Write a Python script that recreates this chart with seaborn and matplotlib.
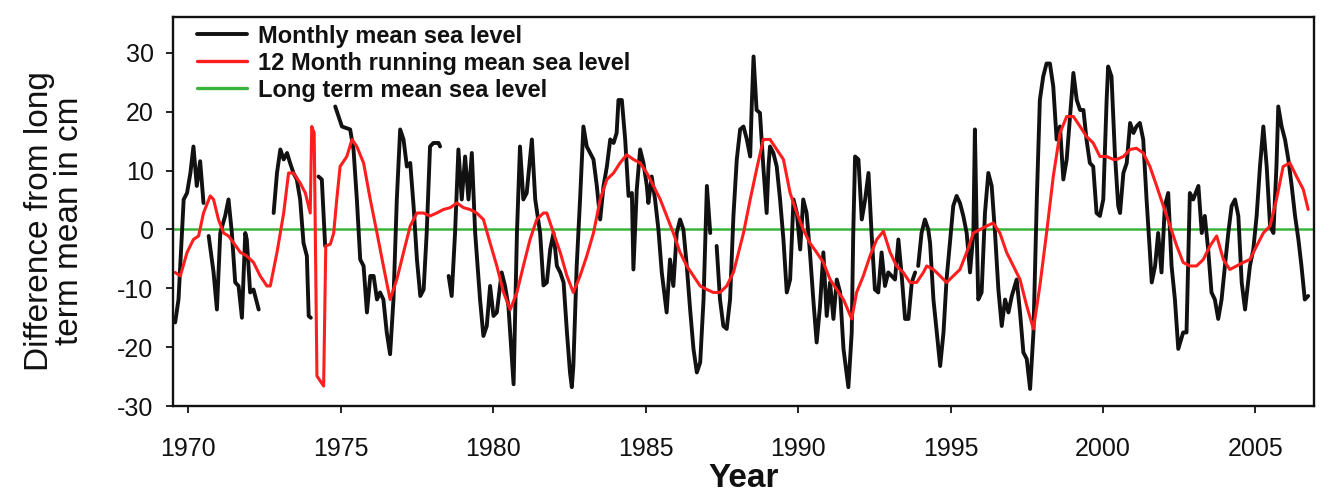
import numpy as np
import pandas as pd
import matplotlib
matplotlib.use("Agg")
import matplotlib.pyplot as plt
import seaborn as sns
from matplotlib.lines import Line2D

nan = np.nan

# monthly mean sea level (cm from long term mean), NaN marks gaps in the record
black_year = [
    1969.57, 1969.68, 1969.85, 1969.96, 1970.07, 1970.17, 1970.28, 1970.39, 1970.50, nan,
    1970.67, 1970.83, 1970.94, 1971.05, 1971.21, 1971.32, 1971.43, 1971.54, 1971.65, 1971.76,
    1971.87, 1971.92, 1972.03, 1972.14, 1972.31, nan,
    1972.80, 1972.91, 1973.02, 1973.13, 1973.24, 1973.34, 1973.45, 1973.56, 1973.67, 1973.78,
    1973.89, 1973.95, 1974.02, nan,
    1974.27, 1974.38, 1974.49, nan,
    1974.82, 1975.04, 1975.31, 1975.42, 1975.53, 1975.64, 1975.75, 1975.86, 1975.97, 1976.08,
    1976.19, 1976.29, 1976.40, 1976.51, 1976.62, 1976.73, 1976.84, 1976.95, 1977.06, 1977.17,
    1977.28, 1977.39, 1977.50, 1977.61, 1977.72, 1977.82, 1977.93, 1978.04, 1978.21, 1978.26, nan,
    1978.54, 1978.64, 1978.75, 1978.86, 1978.97, 1979.08, 1979.19, 1979.30, 1979.41, 1979.57,
    1979.68, 1979.79, 1979.90, 1980.01, 1980.12, 1980.28, 1980.39, 1980.50, 1980.67, 1980.78,
    1980.88, 1980.99, 1981.10, 1981.27, 1981.38, 1981.54, 1981.65, 1981.76, 1981.87, 1981.98,
    1982.09, 1982.20, 1982.31, 1982.42, 1982.52, 1982.58, 1982.63, 1982.74, 1982.85, 1982.96,
    1983.07, 1983.18, 1983.29, 1983.40, 1983.51, 1983.62, 1983.73, 1983.84, 1983.95, 1984.05,
    1984.11, 1984.22, 1984.33, 1984.44, 1984.55, 1984.60, 1984.71, 1984.82, 1984.93, 1985.04,
    1985.09, 1985.20, 1985.31, 1985.42, 1985.53, 1985.69, 1985.80, 1985.91, 1986.02, 1986.13,
    1986.24, 1986.35, 1986.46, 1986.57, 1986.68, 1986.79, 1986.90, 1987.01, 1987.12, nan,
    1987.33, 1987.44, 1987.55, 1987.66, 1987.77, 1987.88, 1987.99, 1988.10, 1988.21, 1988.32,
    1988.43, 1988.48, 1988.54, 1988.64, 1988.75, 1988.86, 1988.97, 1989.03, 1989.08, 1989.19,
    1989.30, 1989.41, 1989.52, 1989.63, 1989.74, 1989.85, 1989.96, 1990.07, 1990.17, 1990.28,
    1990.39, 1990.50, 1990.61, 1990.72, 1990.83, 1990.94, 1991.05, 1991.16, 1991.27, 1991.38,
    1991.49, 1991.65, 1991.76, 1991.81, 1991.87, 1991.98, 1992.09, 1992.20, 1992.31, 1992.41,
    1992.52, 1992.63, 1992.74, 1992.85, 1992.96, 1993.07, 1993.18, 1993.29, 1993.40, 1993.51,
    1993.62, 1993.73, 1993.84, nan,
    1993.94, 1994.05, 1994.16, 1994.27, 1994.33, 1994.44, 1994.55, 1994.66, 1994.77, 1994.87,
    1994.98, 1995.09, 1995.20, 1995.31, 1995.42, 1995.53, 1995.64, 1995.75, 1995.80, 1995.86,
    1995.91, 1996.02, 1996.13, 1996.24, 1996.35, 1996.46, 1996.57, 1996.68, 1996.79, 1996.90,
    1997.01, 1997.17, 1997.28, 1997.39, 1997.50, 1997.61, 1997.72, 1997.83, 1997.93, 1998.04,
    1998.15, 1998.26, 1998.37, 1998.48, 1998.59, 1998.70, 1998.81, 1998.92, 1999.03, 1999.14,
    1999.25, 1999.36, 1999.46, 1999.57, 1999.68, 1999.79, 1999.90, 2000.01, 2000.12, 2000.17,
    2000.28, 2000.39, 2000.50, 2000.56, 2000.67, 2000.78, 2000.89, 2001.00, 2001.10, 2001.21,
    2001.32, 2001.43, 2001.54, 2001.60, 2001.71, 2001.81, 2001.92, 2002.03, 2002.14, 2002.25,
    2002.36, 2002.47, 2002.63, 2002.74, 2002.85, 2002.96, 2003.13, 2003.24, 2003.34, 2003.45,
    2003.56, 2003.67, 2003.78, 2003.89, 2004.00, 2004.11, 2004.22, 2004.33, 2004.44, 2004.55,
    2004.66, 2004.82, 2004.93, 2005.04, 2005.15, 2005.26, 2005.37, 2005.48, 2005.59, 2005.69,
    2005.75, 2005.86, 2005.97, 2006.08, 2006.19, 2006.30, 2006.41, 2006.51, 2006.62, 2006.73,
]
black_cm = [
    -15.8, -11.9, 5.1, 6.2, 9.6, 14.1, 7.4, 11.6, 4.5, nan,
    -1.1, -7.3, -13.6, -0.6, 2.3, 5.1, -0.6, -9.0, -9.6, -15.0,
    -0.6, -1.7, -10.7, -10.2, -13.6, nan,
    2.8, 9.6, 13.6, 11.9, 13.0, 11.3, 9.6, 8.5, 5.1, -2.3,
    -4.5, -14.7, -15.0, nan,
    9.0, 8.5, -2.8, nan,
    20.9, 17.5, 17.0, 13.6, 5.1, -5.1, -6.2, -14.1, -7.9, -7.9,
    -11.9, -10.7, -11.9, -17.5, -21.2, -11.9, 5.1, 17.0, 15.3, 10.7,
    11.3, 4.0, -5.1, -11.3, -10.2, -0.6, 14.1, 14.7, 14.7, 14.1, nan,
    -7.9, -11.3, -0.6, 13.6, 5.1, 12.4, 5.1, 13.0, -0.6, -11.9,
    -18.1, -16.4, -9.6, -14.7, -14.1, -7.3, -9.6, -13.0, -26.3, -0.6,
    14.1, 5.1, 6.2, 15.3, 5.1, -0.6, -9.5, -9.0, -3.4, -0.6,
    -6.2, -7.3, -9.0, -17.5, -24.3, -26.8, -23.2, -6.2, 5.1, 17.5,
    14.1, 13.0, 11.9, 7.4, 1.7, 7.4, 10.7, 15.3, 14.7, 16.4,
    22.0, 22.0, 15.3, 5.7, 6.2, -6.8, 6.8, 13.6, 11.3, 7.4,
    4.5, 9.0, 5.1, 0.0, -7.3, -14.1, -5.1, -9.6, -0.6, 1.7,
    0.0, -6.2, -13.6, -20.3, -24.3, -22.6, -11.9, 7.4, -0.6, nan,
    -2.8, -11.9, -16.4, -16.9, -11.9, 2.3, 11.9, 17.0, 17.5, 15.3,
    12.4, 20.9, 29.4, 20.3, 19.8, 10.7, 2.8, 10.7, 14.1, 13.0,
    10.7, 5.1, -1.7, -10.7, -8.5, 5.1, 2.8, -3.4, 5.1, 2.8,
    -3.9, -11.9, -19.2, -13.0, -3.9, -14.7, -9.0, -15.2, -8.5, -10.7,
    -20.3, -26.8, -17.5, -0.6, 12.4, 11.9, 1.7, 5.1, 9.6, -0.6,
    -10.2, -10.7, -3.9, -9.6, -7.3, -7.9, -8.5, -1.7, -7.9, -15.2,
    -15.2, -9.0, -7.3, nan,
    -6.2, -0.6, 1.7, 0.0, -2.3, -11.9, -17.5, -23.2, -17.5, -8.5,
    -2.3, 4.0, 5.7, 4.5, 2.3, -0.6, -7.3, -0.6, 17.0, -0.6,
    -11.9, -10.7, 2.8, 9.6, 7.4, -0.6, -10.2, -16.4, -11.9, -14.1,
    -11.3, -8.5, -14.1, -20.9, -22.0, -27.1, -17.5, 5.1, 22.0, 26.0,
    28.2, 28.2, 24.3, 15.3, 17.5, 8.5, 11.9, 19.2, 26.6, 22.0,
    20.3, 20.3, 15.3, 11.3, 10.7, 2.8, 2.3, 5.1, 22.0, 27.7,
    26.0, 13.0, 4.0, 2.8, 9.6, 11.3, 18.1, 16.4, 17.5, 18.1,
    15.3, 5.1, -3.9, -9.0, -6.2, -0.6, -7.3, 4.0, 6.2, -6.2,
    -11.9, -20.3, -17.5, -17.5, 6.2, 5.1, 7.4, -0.6, 2.3, -3.4,
    -10.7, -11.9, -15.2, -11.9, -6.2, -0.6, 4.0, 5.1, 2.3, -9.0,
    -13.6, -6.2, -3.4, 2.3, 10.7, 17.5, 10.7, 0.6, -0.6, 10.7,
    20.9, 17.5, 15.3, 11.9, 7.4, 2.3, -1.7, -6.2, -11.9, -11.3,
]

# 12 month running mean sea level
red_year = [
    1969.57, 1969.74, 1969.96, 1970.17, 1970.34, 1970.50, 1970.72, 1970.83, 1970.99, 1971.16,
    1971.32, 1971.49, 1971.71, 1971.92, 1972.14, 1972.36, 1972.58, 1972.69, 1972.91, 1973.13,
    1973.29, 1973.45, 1973.67, 1973.84, 1974.00, 1974.05, 1974.13, 1974.22, 1974.44, 1974.51,
    1974.66, 1974.77, 1974.87, 1974.98, 1975.20, 1975.37, 1975.53, 1975.75, 1975.97, 1976.19,
    1976.40, 1976.62, 1976.84, 1977.06, 1977.28, 1977.50, 1977.71, 1977.93, 1978.15, 1978.37,
    1978.59, 1978.81, 1979.03, 1979.24, 1979.46, 1979.68, 1979.90, 1980.12, 1980.34, 1980.56,
    1980.78, 1980.99, 1981.21, 1981.43, 1981.65, 1981.76, 1981.98, 1982.20, 1982.42, 1982.63,
    1982.85, 1983.07, 1983.29, 1983.51, 1983.73, 1983.95, 1984.16, 1984.38, 1984.60, 1984.82,
    1985.04, 1985.26, 1985.48, 1985.69, 1985.91, 1986.13, 1986.35, 1986.57, 1986.79, 1987.01,
    1987.22, 1987.44, 1987.66, 1987.88, 1987.99, 1988.21, 1988.43, 1988.64, 1988.86, 1989.08,
    1989.30, 1989.52, 1989.74, 1989.96, 1990.17, 1990.39, 1990.61, 1990.83, 1991.05, 1991.27,
    1991.49, 1991.76, 1991.92, 1992.14, 1992.36, 1992.58, 1992.80, 1993.02, 1993.23, 1993.45,
    1993.67, 1993.89, 1994.11, 1994.22, 1994.44, 1994.66, 1994.87, 1995.09, 1995.31, 1995.53,
    1995.75, 1995.97, 1996.19, 1996.40, 1996.62, 1996.84, 1997.06, 1997.28, 1997.50, 1997.72,
    1997.93, 1998.15, 1998.37, 1998.59, 1998.81, 1999.03, 1999.25, 1999.46, 1999.68, 1999.90,
    2000.12, 2000.34, 2000.45, 2000.67, 2000.89, 2001.10, 2001.32, 2001.54, 2001.76, 2001.98,
    2002.20, 2002.42, 2002.63, 2002.85, 2003.07, 2003.29, 2003.51, 2003.73, 2003.95, 2004.16,
    2004.38, 2004.60, 2004.82, 2005.04, 2005.26, 2005.48, 2005.69, 2005.91, 2006.13, 2006.35,
    2006.57, 2006.73,
]
red_cm = [
    -7.3, -7.9, -3.9, -1.7, -1.1, 2.8, 5.7, 5.1, 1.7, -0.6,
    -1.1, -2.3, -3.9, -4.5, -5.6, -7.9, -9.6, -9.6, -3.9, 2.8,
    9.6, 9.6, 7.9, 6.2, 2.8, 17.5, 16.4, -24.9, -26.6, -2.8,
    -2.5, -0.6, 5.1, 10.7, 12.4, 15.3, 14.1, 11.3, 5.1, -0.6,
    -6.2, -11.9, -8.5, -3.9, 0.6, 2.8, 2.8, 2.3, 2.8, 3.4,
    3.7, 4.5, 3.7, 3.4, 2.8, 1.7, -2.3, -6.2, -10.7, -13.6,
    -10.7, -6.2, -1.7, 1.7, 2.8, 2.8, -0.6, -3.9, -7.9, -10.7,
    -7.9, -4.5, -0.6, 5.1, 8.5, 9.6, 11.3, 12.7, 11.9, 11.3,
    9.6, 7.4, 5.1, 2.3, -0.6, -3.9, -6.2, -7.9, -9.6, -10.2,
    -10.7, -10.7, -9.6, -7.3, -5.1, -0.6, 5.1, 10.2, 15.3, 15.3,
    13.6, 11.9, 6.2, 2.8, 0.0, -2.3, -3.9, -5.6, -8.5, -10.2,
    -11.9, -15.2, -10.7, -7.9, -4.5, -1.7, -0.3, -3.9, -6.2, -7.3,
    -9.0, -9.0, -7.3, -6.2, -6.8, -7.9, -9.0, -7.9, -6.8, -3.9,
    -0.6, 0.0, 0.6, 1.1, -0.6, -3.9, -6.2, -8.5, -13.0, -16.9,
    -9.6, -0.6, 9.0, 16.4, 19.2, 19.2, 17.5, 15.8, 14.7, 12.4,
    12.4, 11.9, 11.9, 12.4, 13.6, 13.8, 13.0, 10.7, 7.4, 4.0,
    0.6, -2.8, -5.6, -6.2, -6.2, -5.1, -2.8, -1.1, -5.1, -6.8,
    -6.2, -5.6, -5.1, -2.8, -0.6, 0.6, 5.1, 10.7, 11.3, 9.0,
    6.8, 3.4,
]

labels = ["Monthly mean sea level", "12 Month running mean sea level",
          "Long term mean sea level"]
colors = ["#111111", "#ff1e1e", "#3cb43c"]

sns.set_style("ticks")
plt.rcParams["font.family"] = ["Liberation Sans", "DejaVu Sans"]
plt.rcParams["axes.unicode_minus"] = False
plt.rcParams["text.color"] = "#111111"
plt.rcParams["axes.labelcolor"] = "#111111"
plt.rcParams["xtick.color"] = "#111111"
plt.rcParams["ytick.color"] = "#111111"

# split the monthly record into continuous pieces at the gaps
monthly = pd.DataFrame({"year": black_year, "cm": black_cm})
monthly["piece"] = monthly["year"].isna().cumsum()
monthly = monthly.dropna()
running = pd.DataFrame({"year": red_year, "cm": red_cm})

fig = plt.figure(figsize=(13.36, 4.94), dpi=100)
ax = fig.add_axes([0.1295, 0.1781, 0.854, 0.7874])

sns.lineplot(data=monthly, x="year", y="cm", units="piece", estimator=None,
             color=colors[0], linewidth=2.8, ax=ax, legend=False)
sns.lineplot(data=running, x="year", y="cm", estimator=None, sort=False,
             color=colors[1], linewidth=2.2, ax=ax, legend=False)
ax.axhline(0, color=colors[2], linewidth=1.8, zorder=1)

ax.set_xlim(1969.5, 2006.92)
ax.set_ylim(-30, 36.1)
ax.set_xticks(range(1970, 2006, 5))
ax.set_yticks(range(-30, 31, 10))
ax.tick_params(axis="both", direction="out", length=5, width=1.3, labelsize=18)
ax.tick_params(axis="x", pad=17)
ax.tick_params(axis="y", pad=9)
for s in ax.spines.values():
    s.set_visible(True)
    s.set_linewidth(1.7)
    s.set_color("#111111")

ax.set_xlabel("Year", fontsize=24, fontweight="bold", labelpad=2)
ax.set_ylabel("Difference from long\nterm mean in cm", fontsize=24,
              linespacing=0.95, va="center")
ax.yaxis.set_label_coords(-0.104, 0.476)

handles = [Line2D([], [], color=c, linewidth=w) for c, w in zip(colors, [2.8, 2.4, 2.4])]
ax.legend(handles, labels, loc="upper left", bbox_to_anchor=(0.012, 1.008), frameon=False,
          prop={"weight": "bold", "size": 17}, handlelength=2.1, handletextpad=0.45,
          labelspacing=0.17, borderaxespad=0.3, borderpad=0.15)

fig.savefig("out.png", dpi=100, facecolor="white")
